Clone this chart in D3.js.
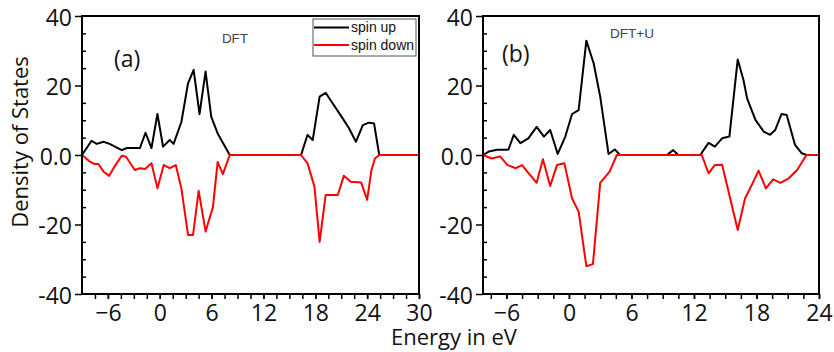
<!DOCTYPE html>
<html>
<head>
<meta charset="utf-8">
<script src="https://cdn.jsdelivr.net/npm/d3@7"></script>
<style>
  body { margin: 0; background: white; }
  text { font-family: "Open Sans", sans-serif; }
</style>
</head>
<body>
<script>

// ---- data (energy in eV, density of states) ----
var dftUp = [[-9,0],[-7.9,4.1],[-7.3,3.2],[-6.5,3.8],[-5.8,3.2],[-4.4,1.4],[-3.8,2],[-2.3,2],[-1.65,6.4],
  [-0.96,2],[-0.27,11.8],[0.38,2.4],[1.15,4.3],[1.6,3.2],[2.5,9.5],[3.27,20.6],[3.92,24.5],[4.6,11.8],
  [5.3,24],[5.96,11],[6.7,6.2],[8.1,0],[16.35,0],[17.1,5.8],[17.7,4.3],[18.5,16.8],[19.2,17.9],[20.0,14.9],
  [21.15,10.6],[21.9,7.7],[22.7,3.8],[23.5,8.6],[24.2,9.3],[24.8,9.1],[25.4,0],[30,0]];

var dftDown = [[-9,0],[-8.1,-1.9],[-7.5,-2.6],[-7.1,-2.6],[-6.5,-4.8],[-5.85,-6.0],[-5.2,-3.2],[-4.4,-0.2],
  [-3.9,-0.5],[-2.9,-4.3],[-2.3,-3.8],[-1.7,-4.0],[-0.96,-2.4],[-0.27,-9.6],[0.46,-2.9],[1.15,-3.8],
  [1.85,-2.9],[2.5,-9.6],[3.27,-23],[3.85,-23],[4.5,-10.3],[5.3,-22],[6.15,-15],[6.7,-2],[7.3,-5.5],
  [8.1,0],[16.35,0],[17.1,-2.4],[17.9,-9.1],[18.5,-25],[19.2,-11.5],[20.6,-11.5],[21.3,-6.0],[22.1,-7.7],
  [23.3,-7.9],[24.0,-12.9],[24.5,-4.3],[24.9,-1],[25.4,0],[30,0]];

var dftuUp = [[-8.25,0],[-7.7,1],[-6.9,1.5],[-6.1,1.5],[-5.8,1.6],[-5.3,5.8],[-4.66,3.4],[-3.9,4.8],
  [-3.1,8.1],[-2.4,5.3],[-1.8,7.2],[-1.08,0.3],[-0.35,5.3],[0.3,11.8],[0.93,12.9],[1.67,32.9],[2.37,26.4],
  [3.0,16.8],[3.8,0.3],[4.4,1.6],[4.9,0],[9.4,0],[10.0,1.4],[10.5,0],[12.6,0],[13.4,3.5],[14.0,2.4],
  [14.7,4.8],[15.4,5.3],[16.2,27.5],[16.75,21.6],[17.1,16.3],[17.9,10.1],[18.7,6.7],[19.3,5.8],[19.8,7.2],
  [20.4,11.8],[20.9,11.5],[21.7,2.9],[22.35,0.5],[22.8,0],[24,0]];

var dftuDown = [[-8.25,0],[-7.4,-1.0],[-6.6,-0.4],[-5.9,-2.9],[-5.1,-3.8],[-4.5,-2.9],[-4.0,-4.8],
  [-3.1,-8.0],[-2.5,-1.2],[-1.8,-8.9],[-1.15,-2.9],[-0.44,-2.4],[0.3,-12.5],[0.93,-16.3],[1.67,-32],
  [2.3,-31.4],[3.0,-8.0],[3.9,-4.8],[4.6,0],[12.75,0],[13.4,-5.3],[14.0,-2.9],[14.7,-2.8],[16.2,-21.6],
  [16.9,-12.5],[17.55,-8.6],[18.2,-4.5],[18.9,-9.6],[19.6,-7.0],[20.3,-8.0],[21.1,-6.7],[21.9,-4.3],
  [22.8,0],[24,0]];

var yTicks = [-40, -20, 0, 20, 40];
var yTickLabels = ["-40", "-20", "0.0", "20", "40"];
var yMinorTicks = [-35, -30, -25, -15, -10, -5, 5, 10, 15, 25, 30, 35];
var xTicksA = [-6, 0, 6, 12, 18, 24, 30];
var xTicksB = [-6, 0, 6, 12, 18, 24];
var legendLabels = ["spin up", "spin down"];
var seriesColors = ["black", "red"];

var width = 834, height = 352;
var plotTop = 16, plotBottom = 294;

var svg = d3.select("body").append("svg")
            .attr("width", width)
            .attr("height", height);

svg.append("rect").attr("width", width).attr("height", height).style("fill", "white");


function drawPanel(opts)
{
  var xScale = d3.scaleLinear().domain(opts.domain).range([opts.left, opts.right]);
  var yScale = d3.scaleLinear().domain([-40, 40]).range([plotBottom, plotTop]);

  var g = svg.append("g").attr("class", "panel");

  // minor x ticks every 1.5 eV
  var xMinor = d3.range(-7.5, opts.domain[1] + 0.01, 1.5);
  g.append("g")
    .attr("transform", "translate(0," + plotBottom + ")")
    .call(d3.axisBottom(xScale).tickValues(xMinor).tickFormat("").tickSize(5))
    .call(function(a) { a.select(".domain").remove(); a.selectAll("line").attr("stroke-width", 1.5); });

  // labelled x ticks
  g.append("g")
    .attr("transform", "translate(0," + plotBottom + ")")
    .call(d3.axisBottom(xScale).tickValues(opts.xTicks).tickFormat(d3.format("d")).tickSize(5).tickPadding(6))
    .call(function(a)
    {
      a.select(".domain").remove();
      a.selectAll("line").attr("stroke-width", 1.5);
      a.selectAll("text").attr("font-family", "Open Sans").attr("font-size", "23px").attr("fill", "#111");
    });

  // y axis, majors outside
  g.append("g")
    .attr("transform", "translate(" + opts.left + ",0)")
    .call(d3.axisLeft(yScale).tickValues(yTicks)
            .tickFormat(function(d, i) { return yTickLabels[i]; })
            .tickSize(7).tickPadding(3))
    .call(function(a)
    {
      a.select(".domain").remove();
      a.selectAll("line").attr("stroke-width", 1.5);
      a.selectAll("text").attr("font-family", "Open Sans").attr("font-size", "23px")
        .attr("fill", "#111").attr("dy", "0.4em");
    });

  // y minor ticks, inside
  g.append("g")
    .attr("transform", "translate(" + opts.left + ",0)")
    .call(d3.axisLeft(yScale).tickValues(yMinorTicks).tickFormat("").tickSize(-4))
    .call(function(a) { a.select(".domain").remove(); a.selectAll("line").attr("stroke-width", 1.5); });

  // curves
  var line = d3.line().x(function(d) { return xScale(d[0]); }).y(function(d) { return yScale(d[1]); });

  g.append("path").datum(opts.up)
    .attr("d", line).attr("fill", "none")
    .attr("stroke", seriesColors[0]).attr("stroke-width", 2).attr("stroke-linejoin", "round");

  g.append("path").datum(opts.down)
    .attr("d", line).attr("fill", "none")
    .attr("stroke", seriesColors[1]).attr("stroke-width", 2).attr("stroke-linejoin", "round");

  // frame
  g.append("rect")
    .attr("x", opts.left).attr("y", plotTop)
    .attr("width", opts.right - opts.left).attr("height", plotBottom - plotTop)
    .attr("fill", "none").attr("stroke", "black").attr("stroke-width", 2);

  // panel letter
  g.append("text").attr("x", opts.letterX).attr("y", opts.letterY)
    .attr("font-family", "Open Sans").attr("font-size", "23px").attr("fill", "#111")
    .text(opts.letter);

  // method label
  g.append("text").attr("x", opts.titleX).attr("y", opts.titleY)
    .attr("text-anchor", "middle")
    .style("font-family", "'Liberation Sans', Arial, sans-serif")
    .attr("font-size", "13.5px").attr("fill", "#444")
    .text(opts.title);

  return g;
}

drawPanel({ domain: [-9, 30], left: 82, right: 419, xTicks: xTicksA,
            up: dftUp, down: dftDown, letter: "(a)", letterX: 114, letterY: 67,
            title: "DFT", titleX: 235, titleY: 43 });

drawPanel({ domain: [-8.25, 24], left: 483, right: 819, xTicks: xTicksB,
            up: dftuUp, down: dftuDown, letter: "(b)", letterX: 502, letterY: 62,
            title: "DFT+U", titleX: 632, titleY: 38 });


// Legend (inside panel a)
var legend = svg.append("g").attr("id", "legend");

legend.append("rect").attr("x", 313).attr("y", 19).attr("width", 103).attr("height", 37)
      .attr("fill", "white").attr("stroke", "#555").attr("stroke-width", 1);

legendLabels.forEach(function(label, i)
{
  var ly = 27.5 + i * 17.5;
  legend.append("line").attr("x1", 314).attr("x2", 349).attr("y1", ly).attr("y2", ly)
        .attr("stroke", seriesColors[i]).attr("stroke-width", 2);
  legend.append("text").attr("x", 351).attr("y", ly + 4.5)
        .style("font-family", "'Liberation Sans', Arial, sans-serif")
        .attr("font-size", "14px").attr("fill", "#111")
        .text(label);
});


// Axis titles
svg.append("text")
   .attr("transform", "translate(28,142) rotate(-90)")
   .attr("text-anchor", "middle")
   .attr("font-family", "Open Sans").attr("font-size", "22px").attr("fill", "#111")
   .text("Density of States");

svg.append("text")
   .attr("x", 454).attr("y", 345)
   .attr("text-anchor", "middle")
   .attr("font-family", "Open Sans").attr("font-size", "22px").attr("fill", "#111")
   .text("Energy in eV");

</script>
</body>
</html>
